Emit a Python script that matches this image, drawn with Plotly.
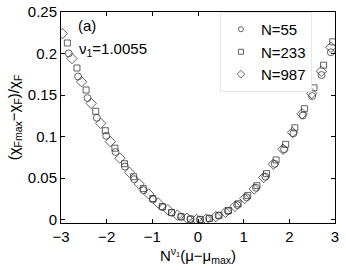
import plotly.graph_objects as go

# N=55 (circles)
x55 = [-2.83, -2.625, -2.42, -2.215, -2.01, -1.805, -1.60, -1.395, -1.19, -0.985,
       -0.78, -0.575, -0.37, -0.165, 0.04, 0.245, 0.45, 0.655, 0.86, 1.065,
       1.27, 1.475, 1.68, 1.885, 2.09, 2.295, 2.50, 2.705, 2.91]
y55 = [0.2002, 0.1723, 0.1464, 0.1227, 0.1010, 0.0815, 0.0640, 0.0487, 0.0354, 0.0243,
       0.0152, 0.0083, 0.0034, 0.0007, 0.0000, 0.0014, 0.0048, 0.0102, 0.0176, 0.0270,
       0.0384, 0.0518, 0.0672, 0.0846, 0.1040, 0.1254, 0.1488, 0.1741, 0.2015]

# N=233 (squares)
x233 = [-2.86, -2.65, -2.45, -2.24, -2.03, -1.82, -1.61, -1.41, -1.20, -0.99,
        -0.78, -0.58, -0.37, -0.16, 0.05, 0.25, 0.46, 0.67, 0.88, 1.09,
        1.29, 1.50, 1.71, 1.92, 2.12, 2.33, 2.54, 2.75, 2.95]
y233 = [0.2127, 0.1826, 0.1561, 0.1305, 0.1071, 0.0861, 0.0674, 0.0517, 0.0374, 0.0255,
        0.0158, 0.0087, 0.0036, 0.0007, 0.0001, 0.0015, 0.0052, 0.0110, 0.0191, 0.0292,
        0.0409, 0.0554, 0.0719, 0.0907, 0.1106, 0.1336, 0.1587, 0.1860, 0.2141]

# N=987 (diamonds)
x987 = [-2.97, -2.76, -2.55, -2.34, -2.13, -1.92, -1.71, -1.50, -1.29, -1.08,
        -0.87, -0.66, -0.45, -0.24, -0.03, 0.18, 0.39, 0.60, 0.81, 1.02,
        1.23, 1.44, 1.65, 1.86, 2.07, 2.28, 2.49, 2.70, 2.91]
y987 = [0.224, 0.194, 0.166, 0.140, 0.116, 0.094, 0.074, 0.057, 0.043, 0.031,
        0.020, 0.012, 0.0055, 0.0018, 0.0002, 0.0008, 0.0037, 0.0088, 0.0160, 0.0255,
        0.0370, 0.0508, 0.0667, 0.0848, 0.1050, 0.1274, 0.1519, 0.1786, 0.2075]

series_names = ["N=55", "N=233", "N=987"]
x_ticks = [-3, -2, -1, 0, 1, 2, 3]
y_ticks = [0, 0.05, 0.1, 0.15, 0.2, 0.25]
y_ticklabels = ["0", "0.05", "0.1", "0.15", "0.2", "0.25"]

FONT = "Liberation Sans, Arial, Helvetica, sans-serif"
mcol = "#3a3a3a"

fig = go.Figure()
specs = [
    (x55, y55, series_names[0], "circle-open", 7, 5),
    (x233, y233, series_names[1], "square-open", 6, 5),
    (x987, y987, series_names[2], "diamond-open", 8, 6),
]
for xs, ys, name, sym, sz, lsz in specs:
    fig.add_trace(go.Scatter(
        x=xs, y=ys, mode="markers", name=name, showlegend=False,
        marker=dict(symbol=sym, size=sz, color=mcol, line=dict(width=0.8, color=mcol)),
    ))
# legend entries with smaller symbols (as in the reference legend)
for xs, ys, name, sym, sz, lsz in specs:
    fig.add_trace(go.Scatter(
        x=[None], y=[None], mode="markers", name=name, showlegend=True,
        marker=dict(symbol=sym, size=lsz, color=mcol, line=dict(width=0.8, color=mcol)),
    ))

axis_common = dict(
    showgrid=False, zeroline=False, showline=True, linecolor="black", linewidth=1,
    mirror="ticks", ticks="inside", ticklen=4, tickcolor="black", automargin=False,
    ticklabeloverflow="allow",
    tickfont=dict(family=FONT, size=15, color="black"),
)

fig.update_layout(
    width=346, height=270,
    margin=dict(l=61, r=11, t=12, b=47),
    paper_bgcolor="white", plot_bgcolor="white",
    font=dict(family=FONT, size=15, color="black"),
    xaxis=dict(range=[-3, 3], tickvals=x_ticks, **axis_common,
               title=dict(text="N<sup>ν<sub>1</sub></sup>(μ−μ<sub>max</sub>)",
                          font=dict(family=FONT, size=15), standoff=2)),
    yaxis=dict(range=[-0.004, 0.25], tickvals=y_ticks, ticktext=y_ticklabels, **axis_common,
               title=dict(text="(χ<sub>Fmax</sub>−χ<sub>F</sub>)/χ<sub>F</sub>",
                          font=dict(family=FONT, size=15), standoff=4)),
    legend=dict(x=0.58, y=1.0, xanchor="left", yanchor="top",
                bgcolor="white", bordercolor="#e6e6e6", borderwidth=1,
                font=dict(family=FONT, size=15), itemwidth=30,
                tracegroupgap=0),
    showlegend=True,
)

fig.add_annotation(text="(a)", x=0.055, y=0.985, xref="paper", yref="paper",
                   xanchor="left", yanchor="top", showarrow=False,
                   font=dict(family=FONT, size=15))
fig.add_annotation(text="ν<sub>1</sub>=1.0055", x=0.06, y=0.875, xref="paper", yref="paper",
                   xanchor="left", yanchor="top", showarrow=False,
                   font=dict(family=FONT, size=15))

fig.write_html("out.html", config={"displayModeBar": False},
               post_script="document.body.style.margin='0';document.body.style.overflow='hidden';")
